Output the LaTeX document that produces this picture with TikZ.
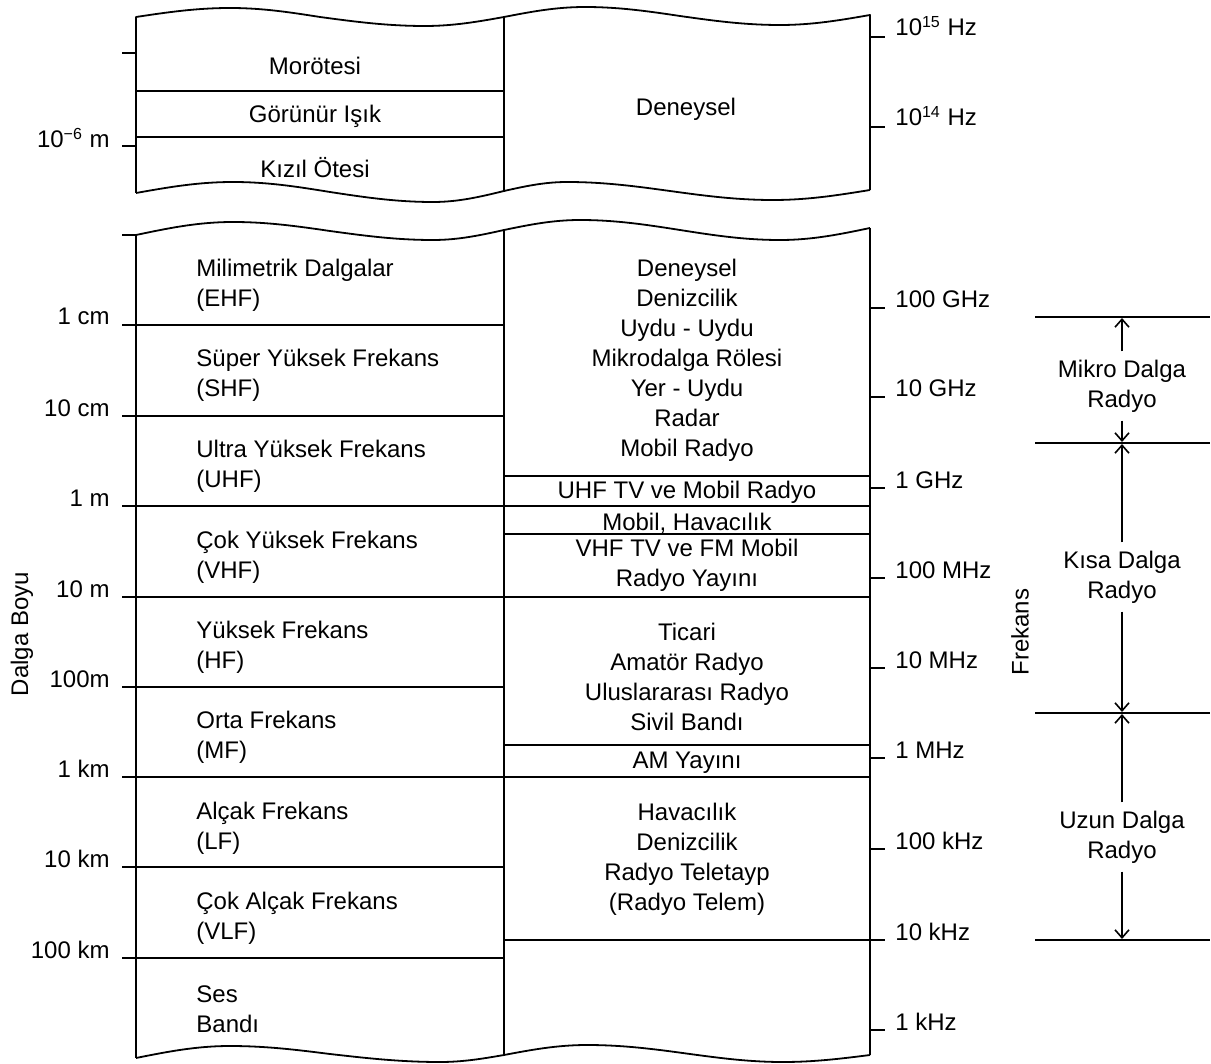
\documentclass[tikz,border=0pt]{standalone}
\usepackage{fontspec}
\setmainfont{Liberation Sans}
\usepackage{tikz}
\usetikzlibrary{arrows.meta}
\tikzset{
  edge/.style={line width=0.9pt,line join=round},
  band/.style={anchor=west,align=left,inner sep=0pt},
  use/.style={align=center,inner sep=0pt},
  wlab/.style={anchor=base east,inner sep=0pt},
  flab/.style={anchor=base west,inner sep=0pt},
  rng/.style={align=center,inner sep=0pt},
  axlab/.style={rotate=90,inner sep=0pt},
  arr/.style={-{Straight Barb[length=4pt,width=7pt]},line width=0.8pt,shorten <=4pt},
}

\begin{document}
\begin{tikzpicture}[x=0.5pt,y=-0.5pt,font=\fontsize{12}{15}\selectfont]
  \useasboundingbox (0,0) rectangle (1211,1064);

  % upper block (light)
  \draw[edge] (136,193) -- (136,17) sin (230,8) cos (320,17) sin (425,26) cos (504,17)
    sin (585,7) cos (680,16) sin (780,25) cos (870,15) -- (870,190);
  \draw[edge] (136,193) sin (233,182) cos (330,192) sin (433,202) cos (504,191)
    sin (567,182) cos (670,191) sin (773,200) cos (870,190);
  \draw[edge] (504,17) -- (504,191);
  \draw[edge] (136,91) -- (504,91);
  \draw[edge] (136,137) -- (504,137);
  \draw[edge] (122,53) -- (136,53);
  \draw[edge] (122,146) -- (136,146);
  \draw[edge] (870,37) -- (885,37);
  \draw[edge] (870,127) -- (885,127);

  \node[use] (uv) at (315,66) {Morötesi};
  \node[use] (vis) at (315,116) {Görünür Işık};
  \node[use] (ir) at (315,168) {Kızıl Ötesi};
  \node[use] (exp) at (686,109) {Deneysel};
  \node[wlab] (w0) at (110,148) {10\textsuperscript{−6} m};
  \node[flab] (f15) at (895,36) {10\textsuperscript{15} Hz};
  \node[flab] (f14) at (895,126) {10\textsuperscript{14} Hz};

  % radio block
  \draw[edge] (122,235) -- (136,235) sin (233,222) cos (330,231) sin (433,240) cos (504,230)
    sin (580,220) cos (680,230) sin (780,240) cos (870,228);
  \draw[edge] (136,1058) sin (230,1046) cos (330,1054) sin (440,1062) cos (504,1055)
    sin (587,1045) cos (690,1054) sin (783,1062) cos (870,1055);
  \draw[edge] (136,235) -- (136,1058);
  \draw[edge] (504,230) -- (504,1055);
  \draw[edge] (870,228) -- (870,1055);

  % wavelength lines
  \foreach \y/\txt in {325/1 cm,416/10 cm,687/100m,867/10 km,958/100 km}{
    \draw[edge] (122,\y) -- (504,\y);
    \node[wlab] at (110,\y) {\txt};
  }
  \foreach \y/\txt in {506/1 m,597/10 m,777/1 km}{
    \draw[edge] (122,\y) -- (870,\y);
    \node[wlab] at (110,\y) {\txt};
  }
  \draw[edge] (504,476) -- (870,476);
  \draw[edge] (504,534) -- (870,534);
  \draw[edge] (504,745) -- (870,745);
  \draw[edge] (504,940) -- (870,940);

  % frequency ticks
  \foreach \y/\txt in {308/100 GHz,397/10 GHz,488/1 GHz,578/100 MHz,668/10 MHz,
                       758/1 MHz,849/100 kHz,940/10 kHz,1030/1 kHz}{
    \draw[edge] (870,\y) -- (885,\y);
    \node[flab] at (895,\y) {\txt};
  }

  % bands
  \node[band] (ehf) at (196,285) {Milimetrik Dalgalar\\(EHF)};
  \node[band] (shf) at (196,375) {Süper Yüksek Frekans\\(SHF)};
  \node[band] (uhf) at (196,466) {Ultra Yüksek Frekans\\(UHF)};
  \node[band] (vhf) at (196,557) {Çok Yüksek Frekans\\(VHF)};
  \node[band] (hf) at (196,647) {Yüksek Frekans\\(HF)};
  \node[band] (mf) at (196,737) {Orta Frekans\\(MF)};
  \node[band] (lf) at (196,828) {Alçak Frekans\\(LF)};
  \node[band] (vlf) at (196,918) {Çok Alçak Frekans\\(VLF)};
  \node[band] (ses) at (196,1009) {Ses\\Bandı};

  % uses
  \node[use] (u1) at (687,360) {Deneysel\\Denizcilik\\Uydu - Uydu\\Mikrodalga Rölesi\\Yer - Uydu\\Radar\\Mobil Radyo};
  \node[use] (u2) at (687,492) {UHF TV ve Mobil Radyo};
  \node[use] (u3) at (687,523) {Mobil, Havacılık};
  \node[use] (u4) at (687,565) {VHF TV ve FM Mobil\\Radyo Yayını};
  \node[use] (u5) at (687,677) {Ticari\\Amatör Radyo\\Uluslararası Radyo\\Sivil Bandı};
  \node[use] (u6) at (687,763) {AM Yayını};
  \node[use] (u7) at (687,859) {Havacılık\\Denizcilik\\Radyo Teletayp\\(Radyo Telem)};

  % axis titles
  \node[axlab] (wave) at (22,634) {Dalga Boyu};
  \node[axlab] (freq) at (1020,632) {Frekans};

  % radio ranges
  \draw[edge] (1035,317) -- (1210,317);
  \draw[edge] (1035,443) -- (1210,443);
  \draw[edge] (1035,713) -- (1210,713);
  \draw[edge] (1035,940) -- (1210,940);
  \coordinate (m1) at (1122,318);
  \coordinate (m2) at (1122,442);
  \coordinate (k1) at (1122,444);
  \coordinate (k2) at (1122,712);
  \coordinate (l1) at (1122,714);
  \coordinate (l2) at (1122,939);
  \node[rng] (mik) at (1122,386) {Mikro Dalga\\Radyo};
  \node[rng] (kis) at (1122,577) {Kısa Dalga\\Radyo};
  \node[rng] (uzn) at (1122,837) {Uzun Dalga\\Radyo};
  \draw[arr] (mik.north) -- (m1);
  \draw[arr] (mik.south) -- (m2);
  \draw[arr] (kis.north) -- (k1);
  \draw[arr] (kis.south) -- (k2);
  \draw[arr] (uzn.north) -- (l1);
  \draw[arr] (uzn.south) -- (l2);
\end{tikzpicture}
\end{document}
